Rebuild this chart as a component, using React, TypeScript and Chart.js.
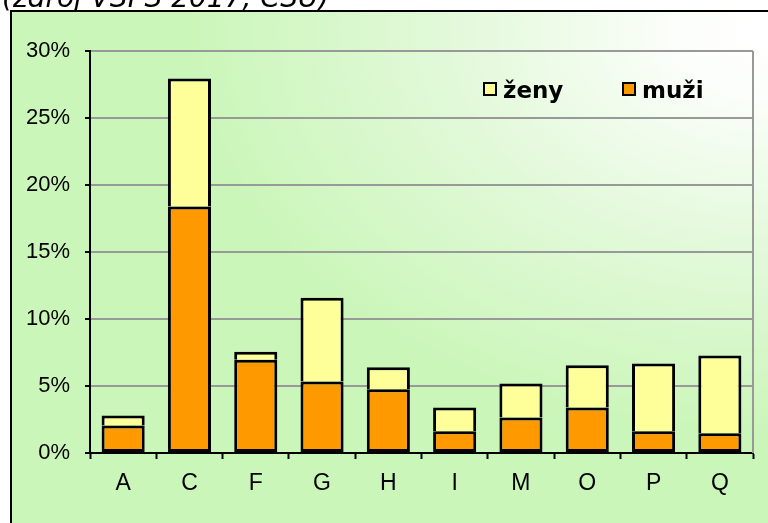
import React, { useEffect, useRef } from "react";
import { Chart, registerables } from "chart.js";

Chart.register(...registerables);

const categories = ["A", "C", "F", "G", "H", "I", "M", "O", "P", "Q"];
const muziValues = [2.05, 18.4, 6.95, 5.33, 4.75, 1.62, 2.65, 3.4, 1.62, 1.47];
const zenyValues = [0.75, 9.55, 0.6, 6.25, 1.65, 1.78, 2.53, 3.14, 5.06, 5.8];
const yTicks = [0, 5, 10, 15, 20, 25, 30];
const titleText = "(zdroj VŠPS 2017, ČSÚ)";
const legendLabels = ["ženy", "muži"];

const ORANGE = "#FF9900";
const YELLOW = "#FFFF99";
const GREEN = "rgb(203,246,186)";

const framePlugin = {
  id: "frame",
  beforeDraw(chart: any) {
    const ctx = chart.ctx as CanvasRenderingContext2D;
    const W = chart.width;
    const H = chart.height;
    ctx.save();
    ctx.fillStyle = "#000";
    ctx.font = 'oblique 28px "DejaVu Sans"';
    ctx.textBaseline = "alphabetic";
    ctx.textAlign = "left";
    ctx.fillText(titleText, 2, 7);
    const cx = 770, cy = 30, rx = 720, ry = 500;
    ctx.save();
    ctx.beginPath();
    ctx.rect(11, 11, W - 11, H - 11);
    ctx.clip();
    ctx.translate(cx, cy);
    ctx.scale(1, ry / rx);
    const g = ctx.createRadialGradient(0, 0, 0, 0, 0, rx);
    g.addColorStop(0, "#ffffff");
    g.addColorStop(0.12, "#fcfefb");
    g.addColorStop(0.45, "rgb(226,249,217)");
    g.addColorStop(0.8, GREEN);
    g.addColorStop(1, GREEN);
    ctx.fillStyle = g;
    ctx.fillRect(-cx - 10, -rx * 2, rx * 3, rx * 4);
    ctx.restore();
    ctx.strokeStyle = "#000";
    ctx.lineWidth = 2;
    ctx.beginPath();
    ctx.moveTo(11, H + 5);
    ctx.lineTo(11, 11);
    ctx.lineTo(W + 5, 11);
    ctx.stroke();
    ctx.restore();
  },
  beforeDatasetsDraw(chart: any) {
    const ctx = chart.ctx as CanvasRenderingContext2D;
    const a = chart.chartArea;
    ctx.save();
    ctx.strokeStyle = "#999999";
    ctx.lineWidth = 2;
    ctx.beginPath();
    ctx.moveTo(a.right, a.top);
    ctx.lineTo(a.right, a.bottom);
    ctx.stroke();
    ctx.restore();
  },
  afterDraw(chart: any) {
    const ctx = chart.ctx as CanvasRenderingContext2D;
    ctx.save();
    const items = [
      { label: legendLabels[0], color: YELLOW, x: 484 },
      { label: legendLabels[1], color: ORANGE, x: 623 },
    ];
    ctx.font = 'bold 23px "DejaVu Sans"';
    ctx.textBaseline = "alphabetic";
    ctx.textAlign = "left";
    for (const it of items) {
      ctx.fillStyle = it.color;
      ctx.fillRect(it.x, 83, 12, 12);
      ctx.strokeStyle = "#000";
      ctx.lineWidth = 2;
      ctx.strokeRect(it.x, 83, 12, 12);
      ctx.fillStyle = "#000";
      ctx.fillText(it.label, it.x + 19, 98);
    }
    ctx.restore();
  },
};

export default function App() {
  const ref = useRef<HTMLCanvasElement | null>(null);
  useEffect(() => {
    if (!ref.current) return;
    const chart = new Chart(ref.current, {
      type: "bar",
      data: {
        labels: categories,
        datasets: [
          {
            label: legendLabels[1],
            data: muziValues,
            backgroundColor: ORANGE,
            borderColor: "#000",
            borderWidth: 3,
            borderSkipped: false,
            barPercentage: 0.65,
            categoryPercentage: 1,
          },
          {
            label: legendLabels[0],
            data: zenyValues,
            backgroundColor: YELLOW,
            borderColor: "#000",
            borderWidth: 3,
            borderSkipped: "bottom",
            barPercentage: 0.65,
            categoryPercentage: 1,
          },
        ],
      },
      options: {
        responsive: false,
        animation: false,
        devicePixelRatio: 1,
        layout: { padding: { left: 0, right: 15, top: 51, bottom: 0 } },
        plugins: { legend: { display: false }, tooltip: { enabled: false } },
        scales: {
          x: {
            stacked: true,
            afterFit: (s: any) => {
              s.height = 70;
            },
            grid: {
              offset: true,
              drawOnChartArea: false,
              drawTicks: true,
              tickLength: 6,
              tickColor: "#000",
              tickWidth: 2,
            },
            border: { display: true, color: "#000", width: 2 },
            ticks: {
              color: "#000",
              padding: 11,
              font: { family: '"Liberation Sans", Arial', size: 23 },
            },
          },
          y: {
            stacked: true,
            min: 0,
            max: 30,
            afterFit: (s: any) => {
              s.width = 90;
            },
            afterBuildTicks: (s: any) => {
              s.ticks = yTicks.map((v) => ({ value: v }));
            },
            grid: {
              color: (c: any) => (c.tick && c.tick.value === 0 ? "#000" : "#999999"),
              lineWidth: 2,
              drawTicks: true,
              tickLength: 5,
              tickColor: "#000",
              tickWidth: 2,
            },
            border: { display: true, color: "#000", width: 2 },
            ticks: {
              color: "#000",
              padding: 15,
              font: { family: '"Liberation Sans", Arial', size: 22 },
              callback: (v: any) => v + "%",
            },
          },
        },
      },
      plugins: [framePlugin],
    });
    return () => chart.destroy();
  }, []);
  return (
    <div style={{ position: "fixed", left: 0, top: 0, width: 768, height: 523, overflow: "hidden" }}>
      <canvas ref={ref} width={768} height={523} style={{ width: 768, height: 523, display: "block" }} />
    </div>
  );
}
